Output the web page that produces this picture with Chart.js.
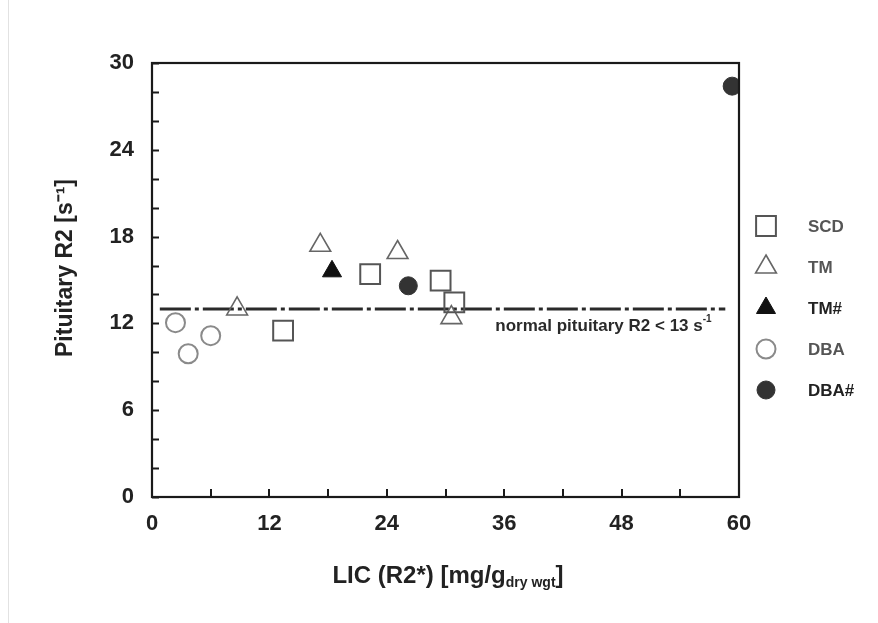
<!DOCTYPE html>
<html lang="en">
<head>
    <meta charset="UTF-8">
    <title>Pituitary R2 vs LIC</title>
    <script src="https://cdn.jsdelivr.net/npm/chart.js"></script>
    <style>
        html, body {
            margin: 0;
            padding: 0;
            background-color: white;
        }
        .wrap {
            position: relative;
            width: 878px;
            height: 623px;
        }
        .wrap::before {
            content: '';
            position: absolute;
            left: 8px;
            top: 0;
            bottom: 0;
            width: 1px;
            background-color: #e2e2e2;
        }
    </style>
</head>
<body>
    <div class="wrap">
        <canvas id="r2Chart" width="878" height="623"></canvas>
    </div>

    <script>
        // LIC (mg/g dry wgt) and pituitary R2 (1/s) per patient group
        const scdLic = [13.4, 22.3, 29.5, 30.9];
        const scdR2 = [11.5, 15.4, 14.95, 13.45];
        const tmLic = [8.7, 17.2, 25.1, 30.6];
        const tmR2 = [13.0, 17.4, 16.9, 12.4];
        const tmHashLic = [18.4];
        const tmHashR2 = [15.6];
        const dbaLic = [2.4, 3.7, 6.0];
        const dbaR2 = [12.05, 9.9, 11.15];
        const dbaHashLic = [26.2, 59.3];
        const dbaHashR2 = [14.6, 28.4];

        // upper limit of normal pituitary R2
        const normalLimit = 13;
        const normalLineLic = [0.8, 58.6];

        const xTicks = [0, 12, 24, 36, 48, 60];
        const yTicks = [0, 6, 12, 18, 24, 30];

        const toPoints = (xs, ys) => xs.map((x, i) => ({ x: x, y: ys[i] }));

        const chartArea = { left: 152, top: 63, right: 739, bottom: 497 };
        const FONT = '"Liberation Sans", Arial, sans-serif';

        // ticks pointing into the plot + frame round the plot area
        const framePlugin = {
            id: 'frame',
            afterDatasetsDraw(chart) {
                const ctx = chart.ctx;
                const a = chart.chartArea;
                const xs = chart.scales.x;
                const ys = chart.scales.y;
                ctx.save();
                ctx.strokeStyle = '#1a1a1a';
                ctx.lineWidth = 2;
                ys.ticks.forEach(t => {
                    const py = Math.round(ys.getPixelForValue(t.value)) + 0.5;
                    ctx.beginPath();
                    ctx.moveTo(a.left, py);
                    ctx.lineTo(a.left + 7, py);
                    ctx.stroke();
                });
                xs.ticks.forEach(t => {
                    const px = Math.round(xs.getPixelForValue(t.value));
                    ctx.beginPath();
                    ctx.moveTo(px, a.bottom);
                    ctx.lineTo(px, a.bottom - 8);
                    ctx.stroke();
                });
                ctx.lineWidth = 2.2;
                ctx.strokeRect(a.left, a.top, a.right - a.left, a.bottom - a.top);

                // label of the normal limit line
                const tx = xs.getPixelForValue(57.2);
                const ty = ys.getPixelForValue(normalLimit - 1.2);
                ctx.fillStyle = '#2a2a2a';
                ctx.textBaseline = 'middle';
                ctx.textAlign = 'right';
                ctx.font = 'bold 10px ' + FONT;
                const sup = '-1';
                const supW = ctx.measureText(sup).width;
                ctx.fillText(sup, tx, ty - 7);
                ctx.font = 'bold 17px ' + FONT;
                ctx.fillText('normal pituitary R2 < 13 s', tx - supW, ty);
                ctx.restore();
            },
            afterDraw(chart) {
                const ctx = chart.ctx;
                ctx.save();
                ctx.fillStyle = '#222';
                ctx.textBaseline = 'alphabetic';

                // x axis title with subscript
                const main = 'LIC (R2*) [mg/g';
                const sub = 'dry wgt';
                ctx.font = 'bold 24px ' + FONT;
                const mainW = ctx.measureText(main).width;
                const closeW = ctx.measureText(']').width;
                ctx.font = 'bold 14px ' + FONT;
                const subW = ctx.measureText(sub).width;
                let x = 448 - (mainW + subW + closeW) / 2;
                const base = 583;
                ctx.textAlign = 'left';
                ctx.font = 'bold 24px ' + FONT;
                ctx.fillText(main, x, base);
                x += mainW;
                ctx.font = 'bold 14px ' + FONT;
                ctx.fillText(sub, x, base + 4);
                x += subW;
                ctx.font = 'bold 24px ' + FONT;
                ctx.fillText(']', x, base);

                // y axis title
                ctx.translate(72, 268);
                ctx.rotate(-Math.PI / 2);
                ctx.textAlign = 'center';
                ctx.font = 'bold 23px ' + FONT;
                ctx.fillText('Pituitary R2 [s\u207B\u00B9]', 0, 0);
                ctx.restore();

                // legend on the right
                ctx.save();
                const items = chart.data.datasets.filter(d => d.type !== 'line');
                items.forEach((d, i) => {
                    const ly = 226 + i * 41;
                    ctx.fillStyle = d.backgroundColor;
                    ctx.strokeStyle = d.borderColor;
                    ctx.lineWidth = d.borderWidth;
                    Chart.helpers.drawPoint(ctx, {
                        pointStyle: d.pointStyle,
                        radius: d.pointRadius,
                        borderWidth: d.borderWidth
                    }, 766, ly);
                    ctx.fillStyle = d.legendColor;
                    ctx.font = 'bold 17px ' + FONT;
                    ctx.textAlign = 'left';
                    ctx.textBaseline = 'middle';
                    ctx.fillText(d.label, 808, ly + 1);
                });
                ctx.restore();
            }
        };

        const ctx = document.getElementById('r2Chart').getContext('2d');
        new Chart(ctx, {
            type: 'scatter',
            data: {
                datasets: [
                    {
                        label: 'SCD',
                        data: toPoints(scdLic, scdR2),
                        pointStyle: 'rect',
                        pointRadius: 14,
                        backgroundColor: 'rgba(255,255,255,0)',
                        borderColor: '#555',
                        borderWidth: 2,
                        legendColor: '#555'
                    },
                    {
                        label: 'TM',
                        data: toPoints(tmLic, tmR2),
                        pointStyle: 'triangle',
                        pointRadius: 12,
                        backgroundColor: 'rgba(255,255,255,0)',
                        borderColor: '#666',
                        borderWidth: 1.6,
                        legendColor: '#555'
                    },
                    {
                        label: 'TM#',
                        data: toPoints(tmHashLic, tmHashR2),
                        pointStyle: 'triangle',
                        pointRadius: 11,
                        backgroundColor: '#111',
                        borderColor: '#111',
                        borderWidth: 1,
                        legendColor: '#222'
                    },
                    {
                        label: 'DBA',
                        data: toPoints(dbaLic, dbaR2),
                        pointStyle: 'circle',
                        pointRadius: 9.5,
                        backgroundColor: 'rgba(255,255,255,0)',
                        borderColor: '#8a8a8a',
                        borderWidth: 2,
                        legendColor: '#555'
                    },
                    {
                        label: 'DBA#',
                        data: toPoints(dbaHashLic, dbaHashR2),
                        pointStyle: 'circle',
                        pointRadius: 9,
                        backgroundColor: '#333',
                        borderColor: '#333',
                        borderWidth: 1,
                        legendColor: '#222'
                    },
                    {
                        type: 'line',
                        label: 'normal',
                        data: normalLineLic.map(x => ({ x: x, y: normalLimit })),
                        borderColor: '#2a2a2a',
                        borderWidth: 3,
                        borderDash: [31, 4, 4, 4],
                        pointRadius: 0,
                        fill: false,
                        order: 10
                    }
                ]
            },
            options: {
                responsive: false,
                animation: false,
                layout: {
                    padding: { top: chartArea.top, right: 878 - chartArea.right, left: 0, bottom: 0 }
                },
                plugins: {
                    legend: { display: false },
                    tooltip: { enabled: false }
                },
                scales: {
                    x: {
                        type: 'linear',
                        min: 0,
                        max: 60,
                        afterFit: s => { s.height = 623 - chartArea.bottom; },
                        grid: { display: false, drawTicks: false },
                        border: { display: false },
                        ticks: {
                            stepSize: 6,
                            autoSkip: false,
                            maxRotation: 0,
                            padding: 14,
                            color: '#222',
                            font: { family: FONT, size: 22, weight: 'bold' },
                            callback: v => xTicks.includes(v) ? String(v) : ''
                        }
                    },
                    y: {
                        type: 'linear',
                        min: 0,
                        max: 30,
                        afterFit: s => { s.width = chartArea.left; },
                        grid: { display: false, drawTicks: false },
                        border: { display: false },
                        ticks: {
                            stepSize: 2,
                            autoSkip: false,
                            padding: 18,
                            color: '#222',
                            font: { family: FONT, size: 22, weight: 'bold' },
                            callback: v => yTicks.includes(v) ? String(v) : ''
                        }
                    }
                }
            },
            plugins: [framePlugin]
        });
    </script>
</body>
</html>
